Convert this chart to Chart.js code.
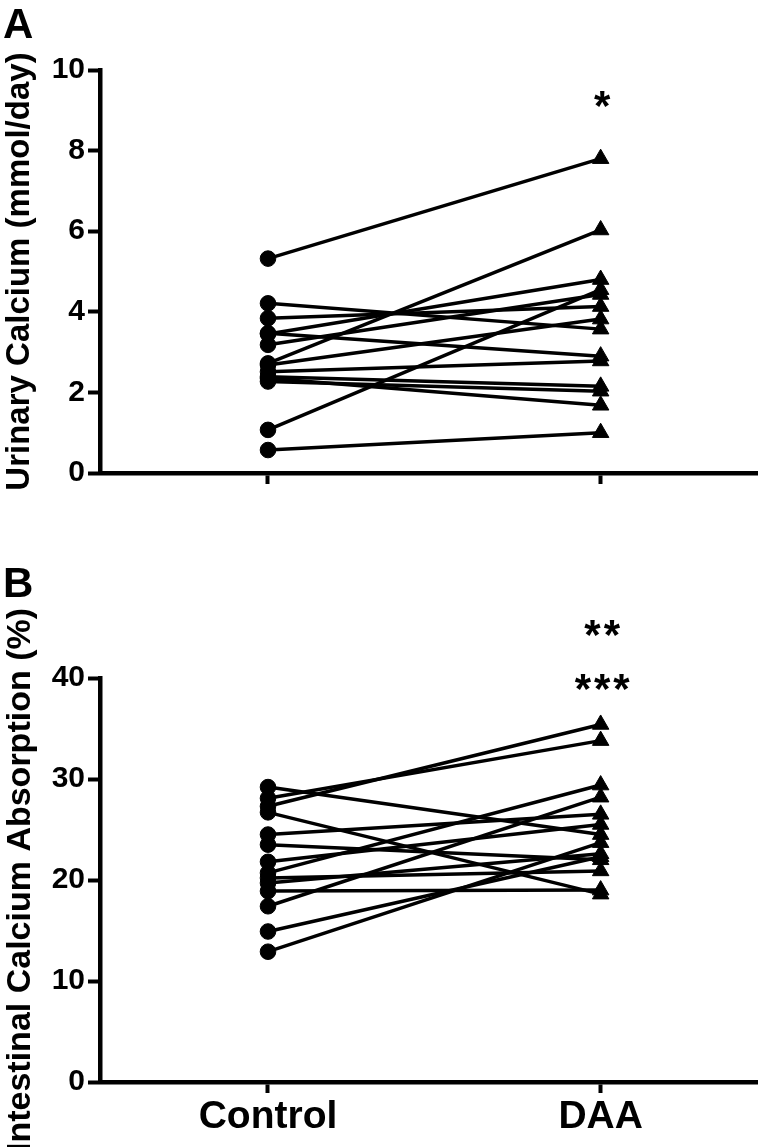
<!DOCTYPE html>
<html><head><meta charset="utf-8">
<script src="https://cdn.jsdelivr.net/npm/chart.js@4.4.1/dist/chart.umd.min.js"></script>
<style>
html,body{margin:0;padding:0;background:#fff;width:775px;height:1147px;overflow:hidden;position:relative;}
#a{position:absolute;left:0;top:0;}
#b{position:absolute;left:0;top:560px;}
.lbl{position:absolute;font:bold 42px "Liberation Sans",Arial,sans-serif;color:#000;line-height:1;}
</style></head><body>
<canvas id="a" width="775" height="560"></canvas>
<canvas id="b" width="775" height="587"></canvas>
<div class="lbl" style="left:3px;top:3px">A</div>
<div class="lbl" style="left:3px;top:562px">B</div>
<script>
// ---- data ----
const groups = ['Control', 'DAA'];

// Panel A: Urinary calcium (mmol/day), one pair per subject
const urinaryControl = [5.32, 0.57, 1.07, 2.72, 4.21, 3.84, 3.47, 3.45, 3.18, 2.68, 2.51, 2.39, 2.27, 2.35];
const urinaryDAA     = [7.80, 1.00, 4.55, 6.03, 3.57, 4.13, 2.90, 4.80, 4.43, 3.82, 2.78, 2.15, 2.03, 1.68];
const urinaryTicks   = [0, 2, 4, 6, 8, 10];

// Panel B: Intestinal calcium absorption (%), one pair per subject
const absorptionControl = [27.3, 28.1, 29.2, 26.7, 24.5, 23.5, 21.8, 20.7, 19.7, 18.9, 17.4, 14.9, 12.9, 20.2];
const absorptionDAA     = [35.4, 33.8, 24.5, 18.6, 26.5, 22.0, 25.5, 29.4, 22.6, 19.0, 28.2, 22.3, 23.7, 20.9];
const absorptionTicks   = [0, 10, 20, 30, 40];

// significance marks (placed over DAA)
const sigTextA  = ['*'];
const sigValueA = [9.35];
const sigTextB  = ['**', '***'];
const sigValueB = [45.2, 39.9];

// ---- drawing ----
const FONT = '"Liberation Sans", Arial, sans-serif';

const sigPlugin = {
  id: 'sig',
  afterDatasetsDraw(chart, args, opts) {
    const ctx = chart.ctx, xs = chart.scales.x, ys = chart.scales.y;
    ctx.save();
    ctx.font = 'bold 42px ' + FONT;
    ctx.fillStyle = '#000';
    ctx.textAlign = 'center';
    ctx.textBaseline = 'alphabetic';
    try { ctx.letterSpacing = '3px'; } catch (e) {}
    opts.texts.forEach((t, i) => {
      ctx.fillText(t, xs.getPixelForValue(1) + 3, ys.getPixelForValue(opts.values[i]) + 24);
    });
    ctx.restore();
  }
};

function makeDatasets(ctrl, daa) {
  return ctrl.map((c, i) => ({
    data: [{x: 0, y: c}, {x: 1, y: daa[i]}],
    borderColor: '#000',
    backgroundColor: '#000',
    borderWidth: 3.5,
    pointStyle: ['circle', 'triangle'],
    pointRadius: [7.8, 9.5],
    pointBorderWidth: 1,
    pointBackgroundColor: '#000',
    pointBorderColor: '#000'
  }));
}

function makeChart(id, ctrl, daa, ticks, yTitle, titleSize, showX, topPad, xHeight, sigText, sigValue) {
  const yMax = ticks[ticks.length - 1];
  const step = ticks[1] - ticks[0];
  new Chart(document.getElementById(id), {
    type: 'line',
    data: { datasets: makeDatasets(ctrl, daa) },
    plugins: [sigPlugin],
    options: {
      responsive: false,
      animation: false,
      devicePixelRatio: 1,
      layout: { padding: { top: topPad, right: 18, left: 0, bottom: 0 } },
      plugins: {
        legend: { display: false },
        tooltip: { enabled: false },
        sig: { texts: sigText, values: sigValue }
      },
      scales: {
        x: {
          type: 'linear',
          min: -0.505, max: 1.47,
          afterBuildTicks: s => { s.ticks = [{value: 0}, {value: 1}]; },
          afterFit: s => { s.height = xHeight; },
          ticks: {
            callback: (v, i) => showX ? groups[i] : '',
            font: { family: FONT, size: 39, weight: 'bold' },
            color: '#000',
            padding: 1,
            maxRotation: 0,
            autoSkip: false
          },
          grid: { display: true, drawOnChartArea: false, drawTicks: true, tickLength: 11, tickWidth: 4, color: '#000' },
          border: { display: true, width: 4.5, color: '#000' }
        },
        y: {
          min: 0, max: yMax,
          afterBuildTicks: s => { s.ticks = ticks.map(v => ({value: v})); },
          afterFit: s => { s.width = 100; },
          ticks: {
            stepSize: step,
            font: { family: FONT, size: 30, weight: 'bold' },
            color: '#000',
            padding: 3
          },
          title: {
            display: true,
            text: yTitle,
            font: { family: FONT, size: titleSize, weight: 'bold' },
            color: '#000',
            padding: { top: 0, bottom: 0 }
          },
          grid: { display: true, drawOnChartArea: false, drawTicks: true, tickLength: 12, tickWidth: 4, color: '#000' },
          border: { display: true, width: 4.5, color: '#000' }
        }
      }
    }
  });
}

makeChart('a', urinaryControl, urinaryDAA, urinaryTicks, 'Urinary Calcium (mmol/day)', 33, false, 70, 87, sigTextA, sigValueA);
makeChart('b', absorptionControl, absorptionDAA, absorptionTicks, 'Intestinal Calcium Absorption (%)', 34, true, 118, 65, sigTextB, sigValueB);
</script>
</body></html>
